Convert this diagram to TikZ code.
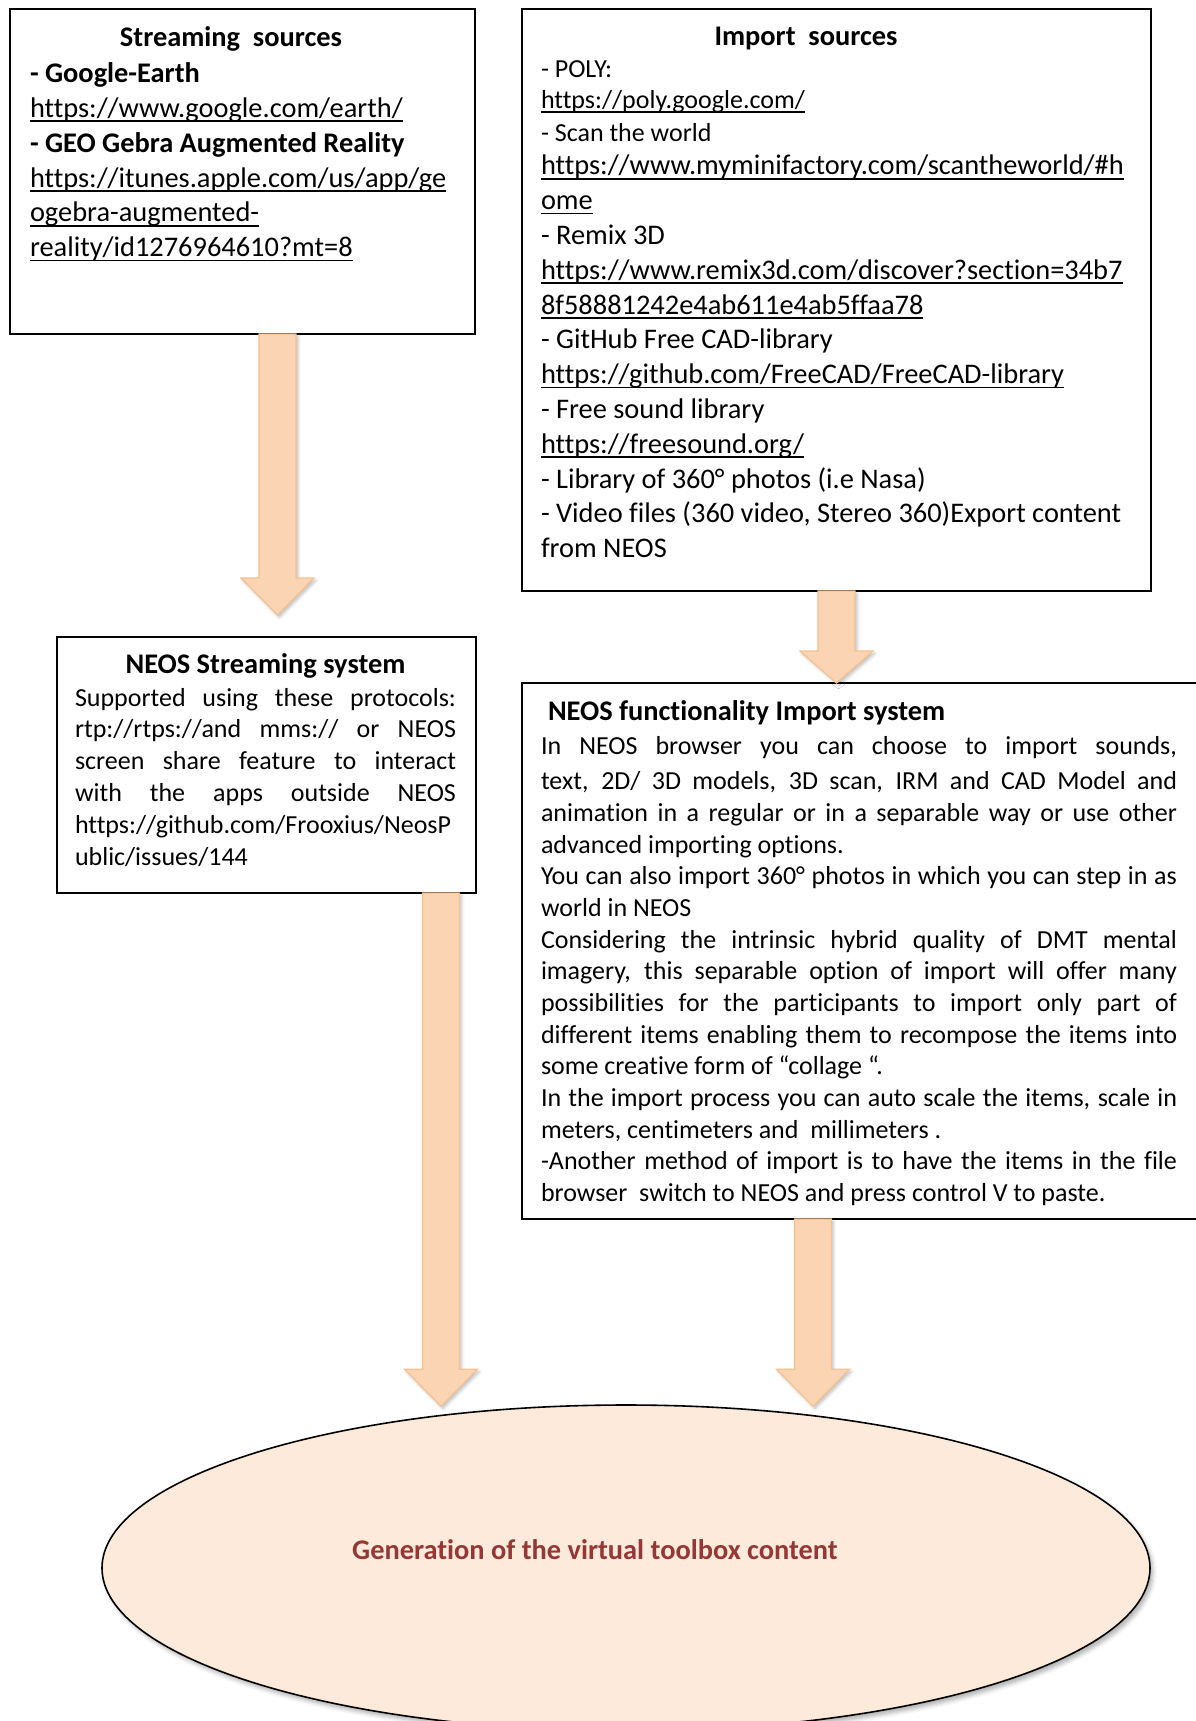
\documentclass[tikz,border=0pt]{standalone}
\usepackage{fontspec}
\setmainfont{Carlito}[Ligatures=NoCommon]
\usetikzlibrary{calc,shapes.geometric,shadows.blur}

\definecolor{arrowfill}{HTML}{FBD4B4}
\definecolor{arrowedge}{HTML}{F7C08F}
\definecolor{goalfill}{HTML}{FDEADA}
\definecolor{goaltext}{HTML}{953735}

% font sizes (1pt = 1px of the drawing)
\newcommand\fbig{\fontsize{28.4pt}{34.8pt}\selectfont}
\newcommand\fsmall{\fontsize{26pt}{31.3pt}\selectfont}
\newcommand\fmid{\fontsize{26pt}{31.8pt}\selectfont}
\newcommand\fbody{\fontsize{26pt}{31.66pt}\selectfont}
% underlined link text, rule at a fixed depth
\newcommand\ulink[1]{\setbox0=\hbox{#1}\rlap{\rule[-0.17em]{\wd0}{0.065em}}\box0}
% justified line of a given width
\newcommand\jline[2]{\makebox[#1][s]{#2}}
% fixed height of the first row of a text block
\newcommand\firstrow{\rule{0pt}{30pt}}

% thick block arrow: top point, tip point, head length
\newcommand\fatarrow[3]{%
  \path[blockarrow] let \p1=(#1), \p2=(#2) in
    (\x1-18.5pt,\y1) -- (\x1+18.5pt,\y1) -- (\x1+18.5pt,\y2+#3) -- (\x1+36.5pt,\y2+#3)
    -- (\x2,\y2) -- (\x1-36.5pt,\y2+#3) -- (\x1-18.5pt,\y2+#3) -- cycle;}

\tikzset{
  panel/.style={draw=black, line width=2pt, fill=white, outer sep=0pt,
    inner sep=0pt, anchor=north west},
  textblock/.style={inner sep=0pt, outer sep=0pt, anchor=north west, align=left},
  blockarrow/.style={fill=arrowfill, draw=arrowedge, line width=1.2pt,
    blur shadow={shadow xshift=2pt, shadow yshift=-2.5pt,
      shadow blur radius=3pt, shadow opacity=25}},
  goal/.style={ellipse, draw=black, line width=1.6pt, fill=goalfill,
    minimum width=1048pt, minimum height=326pt, inner sep=0pt,
    blur shadow={shadow xshift=3pt, shadow yshift=-4pt,
      shadow blur radius=4pt, shadow opacity=30}},
}

\begin{document}
\begin{tikzpicture}[x=1pt,y=-1pt]
\useasboundingbox (0,0) rectangle (1195,1721);

% target ellipse
\node[goal] (goal) at (626,1568) {};
\node[font=\fbig\bfseries, text=goaltext, anchor=base west, inner sep=0pt]
  (goaltxt) at (352,1559) {Generation of the virtual toolbox content};

% framed panels (geometry only)
\node[panel, minimum width=465pt, minimum height=325pt] (box1) at (10,9) {};
\node[panel, minimum width=629pt, minimum height=582pt] (box2) at (522,9) {};
\node[panel, minimum width=419pt, minimum height=256pt] (box3) at (57,637) {};
\node[panel, minimum width=700pt, minimum height=536pt] (box4) at (522,683) {};

% block arrows between panels
\coordinate (a1s) at ([xshift=35pt]box1.south);
\coordinate (a1t) at ($(a1s |- box3.north)+(0,-22)$);
\coordinate (a2s) at (box2.south);
\coordinate (a2t) at (a2s |- box4.north);
\coordinate (a3s) at ([xshift=174.5pt]box3.south);
\coordinate (a3t) at ($(a3s |- goal.north)+(0,2)$);
\coordinate (a4s) at ([xshift=-59pt]box4.south);
\coordinate (a4t) at ($(a4s |- goal.north)+(0,2)$);
\fatarrow{a1s}{a1t}{37pt}
\fatarrow{a2s}{a2t}{32pt}
\fatarrow{a3s}{a3t}{37pt}
\fatarrow{a4s}{a4t}{37pt}

% streaming sources
\node[textblock, font=\fbig] (src1) at (30,16) {%
  \firstrow\makebox[402pt]{\bfseries Streaming\ \ sources}\\[1.8pt]
  {\bfseries - Google-Earth}\\
  \ulink{https://www.google.com/earth/}\\
  {\bfseries - GEO Gebra Augmented Reality}\\
  \ulink{https://itunes.apple.com/us/app/ge}\\
  \ulink{ogebra-augmented-}\\
  \ulink{reality/id1276964610?mt=8}};

% import sources
\node[textblock, font=\fbig] (src2) at (541,15) {%
  \firstrow\makebox[530pt]{\bfseries Import\ \ sources}\\[-2.6pt]
  {\fsmall - POLY:}\\[-3.6pt]
  {\fsmall\ulink{https://poly.google.com/}}\\[-1.6pt]
  {\fsmall - Scan the world}\\[-1.6pt]
  \ulink{https://www.myminifactory.com/scantheworld/\#h}\\
  \ulink{ome}\\
  - Remix 3D\\
  \ulink{https://www.remix3d.com/discover?section=34b7}\\
  \ulink{8f58881242e4ab611e4ab5ffaa78}\\
  - GitHub Free CAD-library\\
  \ulink{https://github.com/FreeCAD/FreeCAD-library}\\
  - Free sound library\\
  \ulink{https://freesound.org/}\\
  - Library of 360° photos (i.e Nasa)\\
  - Video files (360 video, Stereo 360)Export content\\
  from NEOS};

% streaming system
\node[textblock, font=\fmid] (sys1) at (75,643) {%
  \firstrow\makebox[381pt]{\fbig\bfseries NEOS Streaming system}\\[1.2pt]
  \jline{381pt}{Supported using these protocols:}\\
  \jline{381pt}{rtp://rtps://and mms:// or NEOS}\\
  \jline{381pt}{screen share feature to interact}\\
  \jline{381pt}{with the apps outside NEOS}\\
  https://github.com/Frooxius/NeosP\\
  ublic/issues/144};

% import system
\node[textblock, font=\fbody] (sys2) at (541,690) {%
  \firstrow\hspace*{7pt}{\fbig\bfseries NEOS functionality Import system}\\[3.3pt]
  \jline{636pt}{In NEOS browser you can choose to import sounds,}\\[3.3pt]
  \jline{636pt}{text, 2D/ 3D models, 3D scan, IRM and CAD Model and}\\
  \jline{636pt}{animation in a regular or in a separable way or use other}\\
  advanced importing options.\\
  \jline{636pt}{You can also import 360° photos in which you can step in as}\\
  world in NEOS\\
  \jline{636pt}{Considering the intrinsic hybrid quality of DMT mental}\\
  \jline{636pt}{imagery, this separable option of import will offer many}\\
  \jline{636pt}{possibilities for the participants to import only part of}\\
  \jline{636pt}{different items enabling them to recompose the items into}\\
  some creative form of “collage “.\\
  \jline{636pt}{In the import process you can auto scale the items, scale in}\\
  meters, centimeters and\ \ millimeters .\\
  \jline{636pt}{-Another method of import is to have the items in the file}\\
  browser\ \ switch to NEOS and press control V to paste.};

\end{tikzpicture}
\end{document}
